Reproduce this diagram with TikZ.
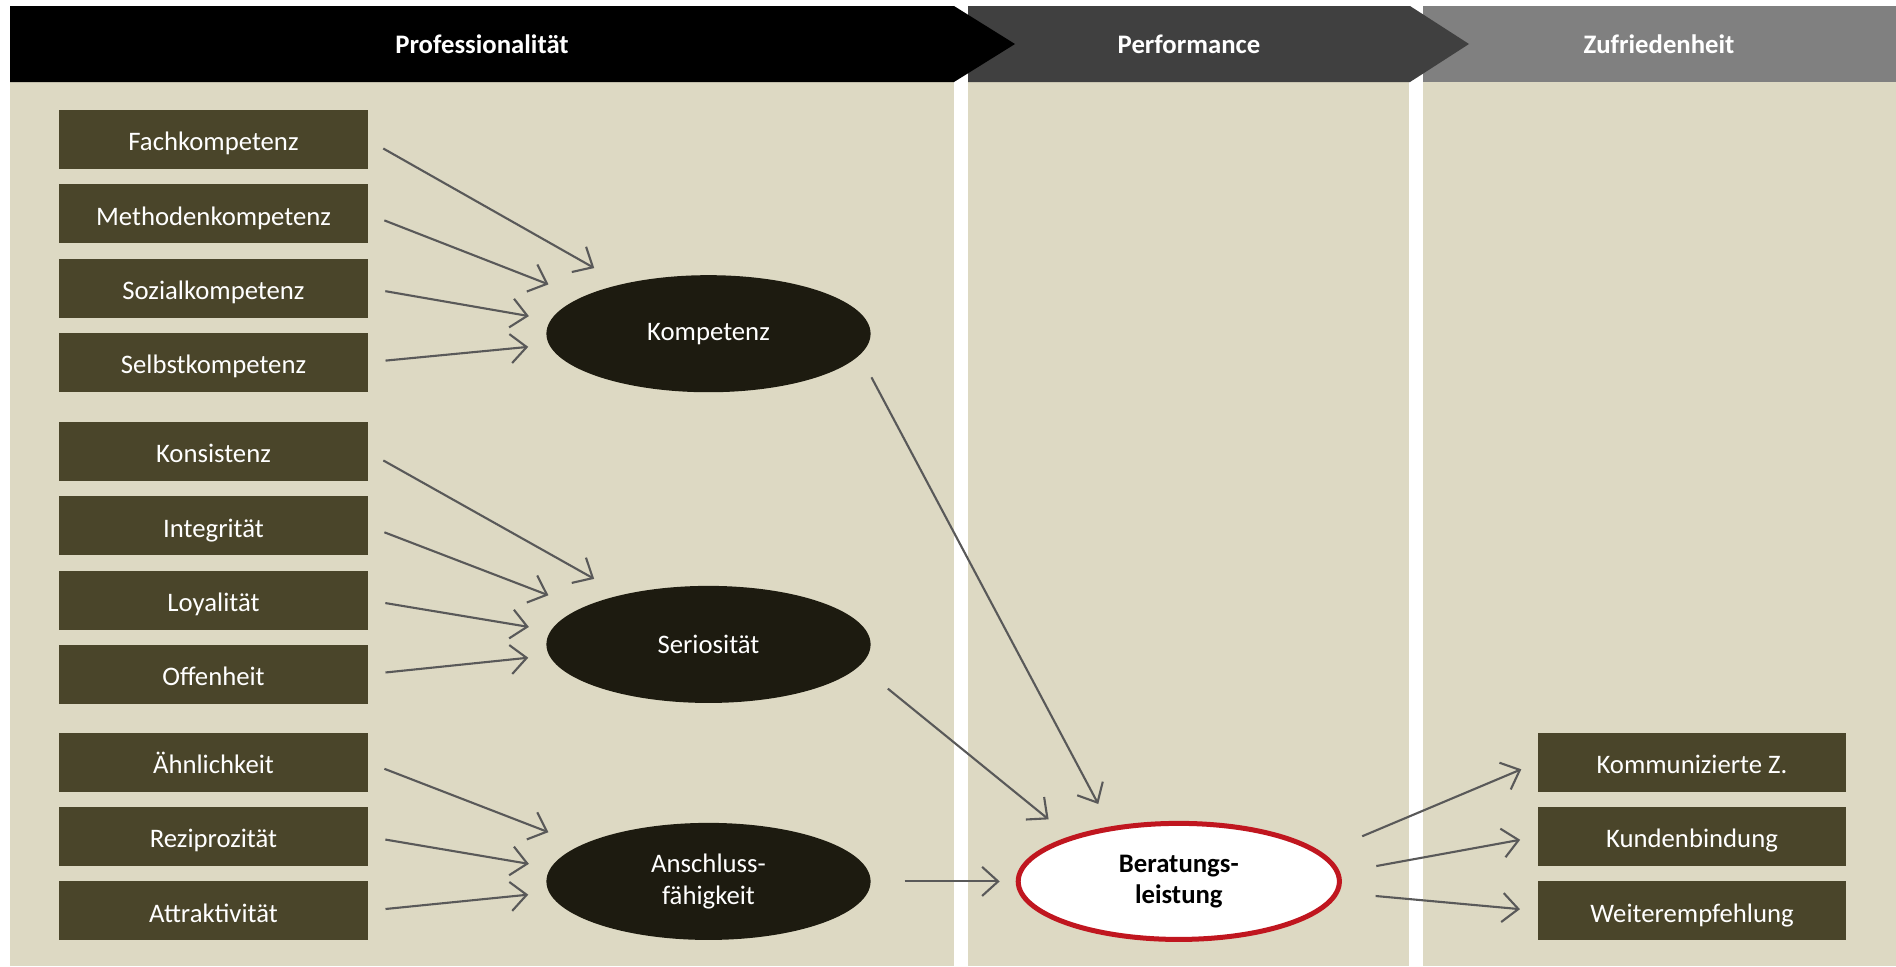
\documentclass[tikz,border=0pt]{standalone}
\usepackage{fontspec}
\setmainfont{Carlito}
\usetikzlibrary{arrows.meta,positioning,shapes.geometric}

\definecolor{panelbg}{HTML}{DDD9C3}
\definecolor{boxolive}{HTML}{4A452A}
\definecolor{elldark}{HTML}{1D1B10}
\definecolor{arrgrey}{HTML}{595959}
\definecolor{headmid}{HTML}{404040}
\definecolor{headlight}{HTML}{808080}
\definecolor{beratred}{HTML}{C0161F}

\begin{document}
\begin{tikzpicture}[x=0.01cm,y=-0.01cm,
    font=\fontsize{7.6}{8.9}\selectfont,
    kbox/.style={fill=boxolive, text=white, minimum width=3.08cm, minimum height=0.59cm, text height=1.6ex, text depth=0.25ex, inner sep=0pt, outer sep=0pt},
    kell/.style={ellipse, fill=elldark, text=white, align=center, minimum width=3.24cm, minimum height=1.17cm, inner sep=0pt, outer sep=0pt},
    pfeil/.style={draw=arrgrey, line width=0.6pt, -{Straight Barb[length=1.6mm,width=2.9mm]}, shorten <=0.18cm}]
    \useasboundingbox (0,0) rectangle (1896,966);
    % panels
    \fill [panelbg] (10,82) rectangle (954,966);
    \fill [panelbg] (968,82) rectangle (1409,966);
    \fill [panelbg] (1423,82) rectangle (1896,966);
    % header
    \fill [headlight] (1423,6) rectangle (1896,82);
    \fill [headmid] (968,6) -- (1410,6) -- (1469,44) -- (1410,82) -- (968,82) -- cycle;
    \fill [black] (10,6) -- (954,6) -- (1015,44) -- (954,82) -- (10,82) -- cycle;
    \node [text=white, font=\fontsize{7.6}{8.9}\selectfont\bfseries] (hprof) at (482,44) {Professionalität};
    \node [text=white, font=\fontsize{7.6}{8.9}\selectfont\bfseries] (hperf) at (1189,44) {Performance};
    \node [text=white, font=\fontsize{7.6}{8.9}\selectfont\bfseries] (hzuf) at (1659,44) {Zufriedenheit};

    % left boxes
    \node [kbox] (fach) at (213.5,139.6) {Fachkompetenz};
    \node [kbox, below=0.152cm of fach] (meth) {Methodenkompetenz};
    \node [kbox, below=0.152cm of meth] (sozi) {Sozialkompetenz};
    \node [kbox, below=0.152cm of sozi] (selb) {Selbstkompetenz};
    \node [kbox] (kons) at (213.5,451.6) {Konsistenz};
    \node [kbox, below=0.152cm of kons] (inte) {Integrität};
    \node [kbox, below=0.152cm of inte] (loya) {Loyalität};
    \node [kbox, below=0.152cm of loya] (offe) {Offenheit};
    \node [kbox] (aehn) at (213.5,762.3) {Ähnlichkeit};
    \node [kbox, below=0.152cm of aehn] (rezi) {Reziprozität};
    \node [kbox, below=0.152cm of rezi] (attr) {Attraktivität};

    % ellipses
    \node [kell] (komp) at (708.5,333.7) {Kompetenz};
    \node [kell] (seri) at (708.5,644.4) {Seriosität};
    \node [kell] (ansc) at (708.5,881.4) {Anschluss-\\fähigkeit};
    \node [ellipse, fill=white, draw=beratred, line width=0.05cm, minimum width=3.21cm, minimum height=1.16cm, inner sep=0pt, outer sep=0pt, align=center, font=\fontsize{7.6}{8.9}\selectfont\bfseries] (bera) at (1178.8,881.4) {Beratungs-\\leistung};

    % right boxes
    \node [kbox] (komm) at (1692,762.3) {Kommunizierte Z.};
    \node [kbox, below=0.152cm of komm] (kund) {Kundenbindung};
    \node [kbox, below=0.152cm of kund] (weit) {Weiterempfehlung};

    % arrows
    \draw [pfeil, shorten >=0.325cm] (fach.east) -- (komp.150.8);
    \draw [pfeil, shorten >=0.355cm] (meth.east) -- (komp.164.7);
    \draw [pfeil, shorten >=0.224cm] (sozi.east) -- (komp.175.3);
    \draw [pfeil, shorten >=0.212cm] (selb.east) -- (komp.184.1);
    \draw [pfeil, shorten >=0.325cm] (kons.east) -- (seri.150.8);
    \draw [pfeil, shorten >=0.355cm] (inte.east) -- (seri.164.7);
    \draw [pfeil, shorten >=0.224cm] (loya.east) -- (seri.175.3);
    \draw [pfeil, shorten >=0.212cm] (offe.east) -- (seri.184.1);
    \draw [pfeil, shorten >=0.355cm] (aehn.east) -- (ansc.164.7);
    \draw [pfeil, shorten >=0.224cm] (rezi.east) -- (ansc.175.3);
    \draw [pfeil, shorten >=0.212cm] (attr.east) -- (ansc.184.1);
    \draw [pfeil, shorten <=0.253cm, shorten >=0.28cm] (komp.352.1) -- (bera.142.2);
    \draw [pfeil, shorten <=0.364cm, shorten >=0.298cm] (seri.352.4) -- (bera.158.6);
    \draw [pfeil, shorten <=0.34cm, shorten >=0.185cm] (ansc.east) -- (bera.west);
    \draw [pfeil, shorten <=0.455cm, shorten >=0.18cm] (bera.11.6) -- (komm.west);
    \draw [pfeil, shorten <=0.392cm, shorten >=0.18cm] (bera.3.1) -- (kund.west);
    \draw [pfeil, shorten <=0.393cm, shorten >=0.18cm] (bera.356.2) -- (weit.west);
\end{tikzpicture}
\end{document}
